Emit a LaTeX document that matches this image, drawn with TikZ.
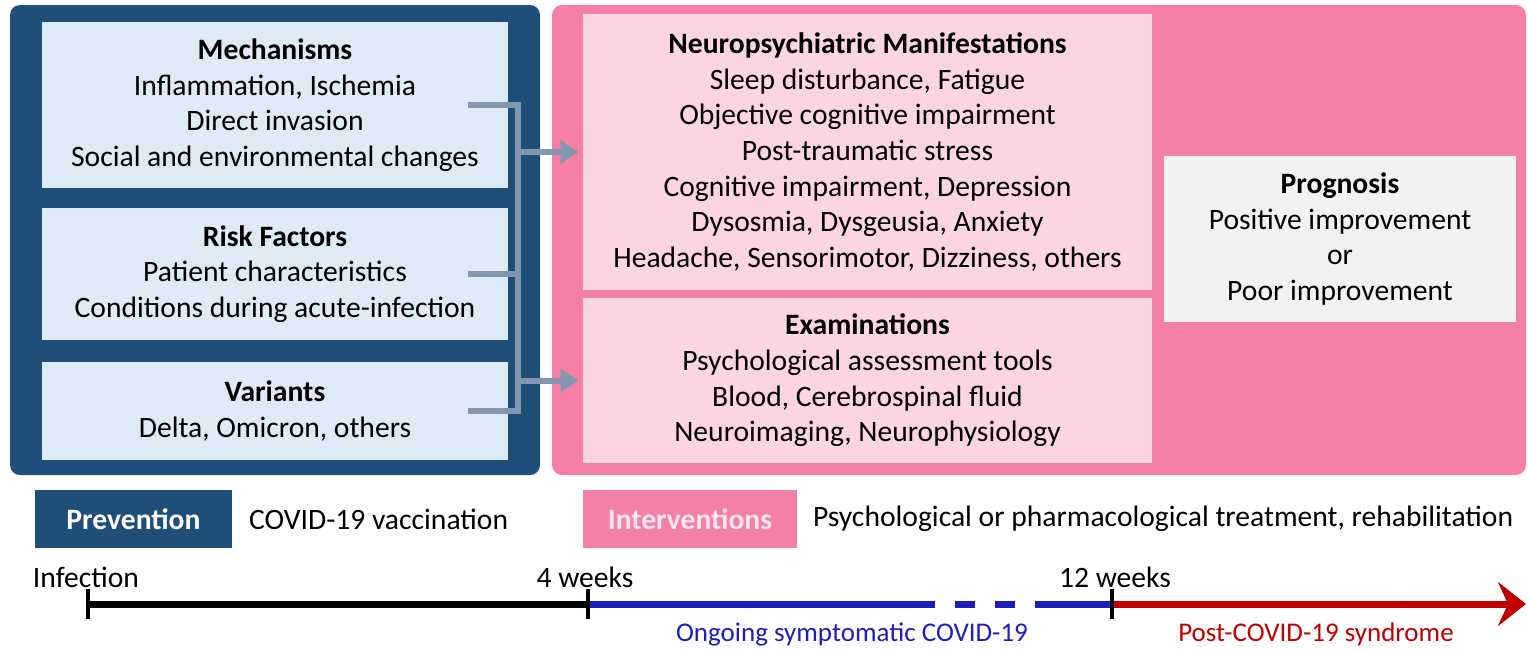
\documentclass[tikz,border=0pt]{standalone}
\usepackage{fontspec}
\setmainfont{Carlito}
\usetikzlibrary{arrows.meta}
\definecolor{navy}{RGB}{31,78,121}
\definecolor{paleblue}{RGB}{222,235,247}
\definecolor{rose}{RGB}{245,128,166}
\definecolor{palerose}{RGB}{252,213,227}
\definecolor{palegray}{RGB}{242,242,242}
\definecolor{linkgray}{RGB}{132,151,176}
\definecolor{ongoing}{RGB}{30,30,190}
\definecolor{postred}{RGB}{192,0,0}
\begin{document}
\begin{tikzpicture}[x=0.5pt,y=-0.5pt,
    txt/.style={font=\fontsize{14.8}{17.8}\selectfont},
    card/.style={txt, align=center, inner sep=0pt},
    tag/.style={font=\fontsize{14.8}{17.8}\selectfont\bfseries, minimum height=29pt},
    link/.style={draw=linkgray, line width=3pt},
    tick/.style={line width=2pt}]
  \useasboundingbox (0,0) rectangle (1528,649);

  % panels
  \node[fill=navy, rounded corners=5pt, minimum width=265pt, minimum height=235pt] (left) at (275,240) {};
  \node[fill=rose, rounded corners=5pt, minimum width=487pt, minimum height=235pt] (right) at (1039,240) {};

  \node[card, fill=paleblue, minimum width=233pt, minimum height=83pt] (mech) at (275,105)
    {\textbf{Mechanisms}\\Inflammation, Ischemia\\Direct invasion\\Social and environmental changes};
  \node[card, fill=paleblue, minimum width=233pt, minimum height=66pt] (risk) at (275,274)
    {\textbf{Risk Factors}\\Patient characteristics\\Conditions during acute-infection};
  \node[card, fill=paleblue, minimum width=233pt, minimum height=49pt] (var) at (275,411)
    {\textbf{Variants}\\Delta, Omicron, others};

  \node[card, fill=palerose, minimum width=284.5pt, minimum height=138pt] (neuro) at (867.5,152)
    {\textbf{Neuropsychiatric Manifestations}\\Sleep disturbance, Fatigue\\Objective cognitive impairment\\Post-traumatic stress\\Cognitive impairment, Depression\\Dysosmia, Dysgeusia, Anxiety\\Headache, Sensorimotor, Dizziness, others};
  \node[card, fill=palerose, minimum width=284.5pt, minimum height=82.5pt] (exam) at (867.5,380.5)
    {\textbf{Examinations}\\Psychological assessment tools\\Blood, Cerebrospinal fluid\\Neuroimaging, Neurophysiology};
  \node[card, fill=palegray, minimum width=176pt, minimum height=83pt] (prog) at (1340,239)
    {\textbf{Prognosis}\\Positive improvement\\or\\Poor improvement};

  % connectors
  \coordinate (bus) at (518,0);
  \draw[link] ([xshift=-20pt]mech.east) -| (bus |- var.east) -- ([xshift=-20pt]var.east);
  \draw[link] ([xshift=-20pt]risk.east) -- (risk.east -| bus);
  \draw[link, -{Triangle[length=9pt,width=11pt]}] (neuro.west -| bus) -- ([xshift=-2pt]neuro.west);
  \draw[link, -{Triangle[length=9pt,width=11pt]}] (exam.west -| bus) -- ([xshift=-2pt]exam.west);

  % prevention and interventions
  \node[tag, fill=navy, text=white, minimum width=98.5pt] (prev) at (133.5,519) {Prevention};
  \node[txt, anchor=west] (vacc) at (242,519) {COVID-19 vaccination};
  \node[tag, fill=rose, text=palerose!60!white, minimum width=107pt] (intv) at (690,519) {Interventions};
  \node[txt, anchor=west] (treat) at (806,519) {Psychological or pharmacological treatment, rehabilitation};

  % timeline
  \coordinate (t0) at (88,604);
  \coordinate (t4) at (588,604);
  \coordinate (t12) at (1112,604);
  \coordinate (tend) at (1526,604);
  \draw[line width=3.5pt] (t0) -- (t4);
  \draw[ongoing, line width=3.5pt, dash pattern=on 173.5pt off 10pt on 10pt off 10pt on 10pt off 10pt on 48pt] (t4) -- (t12);
  \draw[postred, line width=3.5pt, -{Stealth[length=14pt,width=22pt,inset=5pt]}] (t12) -- (tend);
  \foreach \t in {t0,t4,t12}
    \draw[tick] (\t) ++(0,-15) -- ++(0,30);

  \node[txt] (inf) at (86,577) {Infection};
  \node[txt] (wk4) at (585,577) {4 weeks};
  \node[txt] (wk12) at (1115,577) {12 weeks};
  \node[txt, text=ongoing, font=\fontsize{13.5}{15}\selectfont] (ongo) at (852,634) {Ongoing symptomatic COVID-19};
  \node[txt, text=postred, font=\fontsize{13.5}{15}\selectfont] (post) at (1316,634) {Post-COVID-19 syndrome};
\end{tikzpicture}
\end{document}
